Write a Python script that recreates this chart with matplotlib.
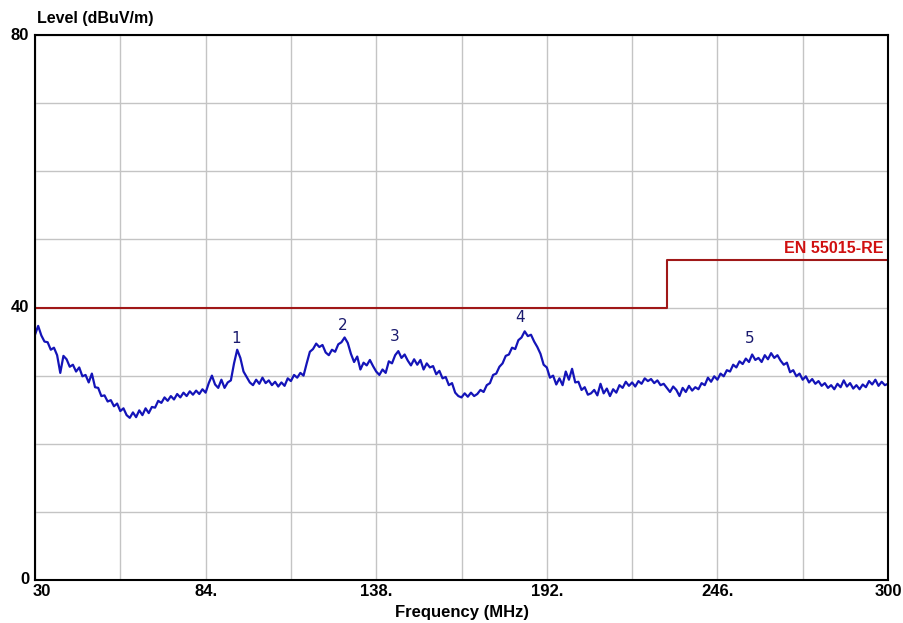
import matplotlib
matplotlib.use("Agg")
import matplotlib.pyplot as plt
import numpy as np

# Measured trace, 1 MHz steps from 30 to 300 MHz (dBuV/m)
freq_start = 30
level = [
    36.0, 37.3, 35.9, 35.0, 34.9, 33.8, 34.1, 33.0, 30.4, 32.9,   # 30
    32.4, 31.3, 31.6, 30.6, 31.2, 29.9, 30.1, 29.0, 30.3, 28.3,   # 40
    28.2, 27.0, 27.1, 26.2, 26.4, 25.5, 25.9, 24.8, 25.2, 24.2,   # 50
    23.8, 24.6, 23.9, 24.9, 24.2, 25.2, 24.5, 25.4, 25.3, 26.3,   # 60
    26.0, 26.8, 26.3, 27.0, 26.5, 27.3, 26.8, 27.5, 27.0, 27.7,   # 70
    27.2, 27.8, 27.3, 28.0, 27.5, 28.9, 30.0, 28.7, 28.2, 29.4,   # 80
    28.2, 29.0, 29.3, 31.8, 33.8, 32.6, 30.6, 29.8, 29.0, 28.6,   # 90
    29.4, 28.8, 29.7, 28.9, 29.3, 28.6, 29.1, 28.4, 29.0, 28.5,   # 100
    29.6, 29.2, 30.1, 29.7, 30.4, 30.0, 31.8, 33.5, 33.9, 34.7,   # 110
    34.2, 34.5, 33.4, 33.0, 33.8, 33.5, 34.6, 34.9, 35.6, 34.8,   # 120
    33.2, 32.0, 32.8, 30.9, 31.9, 31.5, 32.3, 31.4, 30.6, 30.1,   # 130
    30.9, 30.4, 32.1, 31.8, 33.0, 33.6, 32.6, 33.1, 32.2, 31.5,   # 140
    32.4, 31.6, 32.3, 30.9, 31.8, 31.2, 31.4, 30.2, 30.7, 29.6,   # 150
    29.8, 28.6, 28.9, 27.5, 27.0, 26.8, 27.4, 26.9, 27.5, 27.0,   # 160
    27.3, 27.9, 27.6, 28.6, 28.9, 30.1, 30.3, 31.3, 31.8, 32.9,   # 170
    33.1, 34.1, 33.9, 35.2, 35.6, 36.5, 35.8, 36.0, 35.0, 34.2,   # 180
    33.2, 31.6, 31.2, 29.7, 30.0, 28.7, 29.6, 28.6, 30.6, 29.4,   # 190
    31.0, 29.0, 29.1, 27.9, 28.3, 27.2, 27.4, 27.9, 27.1, 28.8,   # 200
    27.4, 28.1, 27.0, 28.0, 27.5, 28.6, 28.2, 29.1, 28.5, 29.0,   # 210
    28.4, 29.2, 28.8, 29.6, 29.2, 29.5, 28.9, 29.3, 28.6, 28.8,   # 220
    28.2, 27.6, 28.4, 27.9, 27.0, 28.2, 27.6, 28.5, 27.8, 28.3,   # 230
    28.0, 28.9, 28.6, 29.7, 29.1, 29.9, 29.4, 30.3, 29.9, 30.8,   # 240
    30.6, 31.6, 31.2, 32.1, 31.7, 32.5, 32.0, 33.1, 32.3, 32.6,   # 250
    32.0, 33.0, 32.4, 33.3, 32.6, 33.0, 32.2, 31.6, 31.9, 30.5,   # 260
    30.8, 29.9, 30.3, 29.4, 29.9, 29.0, 29.5, 28.8, 29.2, 28.5,   # 270
    28.9, 28.2, 28.6, 28.0, 28.8, 28.3, 29.3, 28.4, 28.9, 28.1,   # 280
    28.6, 28.0, 28.7, 28.3, 29.2, 28.7, 29.4, 28.5, 29.1, 28.6,   # 290
    28.8,                                                         # 300
]
freq = np.arange(freq_start, freq_start + len(level))

# EN 55015 radiated limit (step at 230 MHz)
limit_freq = [30, 230, 230, 300]
limit_level = [40, 40, 47, 47]

# Peak markers
marker_names = ["1", "2", "3", "4", "5"]
marker_freq = [93.6, 127.5, 144.0, 183.5, 256.3]
marker_level = [35.5, 37.3, 35.7, 38.5, 35.5]

x_ticks = [30, 84, 138, 192, 246, 300]
x_tick_labels = ["30", "84.", "138.", "192.", "246.", "300"]
y_ticks = [0, 40, 80]

font = ["Liberation Sans Narrow", "Liberation Sans", "DejaVu Sans"]

fig = plt.figure(figsize=(9.04, 6.23), dpi=100)
ax = fig.add_axes([35 / 904, 43 / 623, 853 / 904, 545 / 623])

ax.set_xlim(30, 300)
ax.set_ylim(0, 80)
ax.set_xticks(np.arange(30, 301, 27))
ax.set_yticks(np.arange(0, 81, 10))
ax.grid(True, color="#c4c4c4", linewidth=1.0)
ax.tick_params(length=0, labelbottom=False, labelleft=False)
for sp in ax.spines.values():
    sp.set_linewidth(1.5)
    sp.set_color("black")

ax.plot(limit_freq, limit_level, color="#a01818", linewidth=1.5)
ax.plot(freq, level, color="#1414b8", linewidth=1.6)

for name, f, lv in zip(marker_names, marker_freq, marker_level):
    ax.text(f, lv, name, ha="center", va="center", fontsize=11,
            color="#1a1a6e", family=["DejaVu Sans"])

ax.text(298.5, 48.6, "EN 55015-RE", ha="right", va="center", fontsize=11.5,
        color="#d01010", fontweight="bold", family=font)

# tick labels as text, placed under / left of the axes
for t, lab in zip(x_ticks, x_tick_labels):
    xpos = t + 2 if t == 30 else t
    ax.text(xpos, -0.6, lab, ha="center", va="top",
            fontsize=12, fontweight="bold", family=font)
for t in y_ticks:
    ax.text(28.2, t, str(t), ha="right", va="center",
            fontsize=12, fontweight="bold", family=font)

fig.text(37 / 904, 1 - 19 / 623, "Level (dBuV/m)", ha="left", va="center",
         fontsize=11.5, fontweight="bold", family=font)
fig.text(462 / 904, 1 - 612 / 623, "Frequency (MHz)", ha="center", va="center",
         fontsize=12, fontweight="bold", family=font)

fig.savefig("out.png", dpi=100)
